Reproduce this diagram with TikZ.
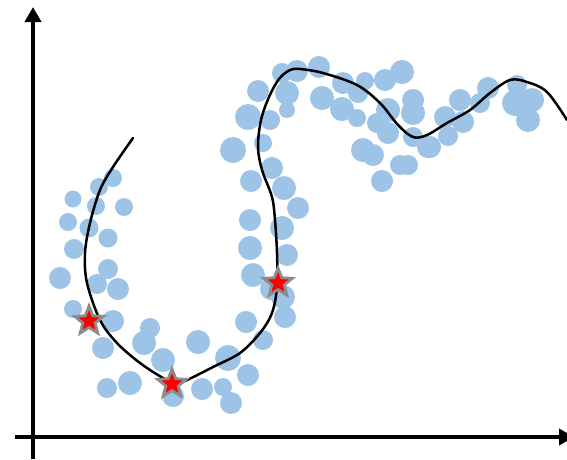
\documentclass[tikz,border=0pt]{standalone}
\usetikzlibrary{arrows.meta,shapes.geometric}
\definecolor{dotblue}{HTML}{9DC3E6}
\begin{document}
\begin{tikzpicture}[x=1pt,y=-1pt,
  axisline/.style={line width=4.5pt,-{Triangle[width=16pt,length=15pt]}},
  dot/.style={fill=dotblue},
  pathline/.style={line width=2.5pt,line cap=round,line join=round},
  starmark/.style={star,star points=5,star point ratio=2.3,minimum size=30pt,inner sep=0pt,fill=red,draw=gray!90,line width=2.8pt}]
\useasboundingbox (0,0) rectangle (567,459);
% points
\foreach \x/\y/\r in {
113/178/9, 99/187/9, 73/199/8.5, 96/206/9, 124/207/9, 68/222/9, 89/228/9.5, 108/238/9.5,
74/249/10, 60/278/11, 108/269/10, 97/284/10, 118/289/11, 73/309/9, 113/321/11, 103/348/11,
150/328/10, 144/343/12, 163/360/12, 130/383/12, 107/388/10, 173/396/11, 198/342/12, 202/389/11,
223/387/9, 231/403/11, 228/358/13, 248/375/11, 246/322/11, 263/340/10, 285/317/11, 283/297/12,
271/289/11, 253/275/12, 287/255/11, 250/248/12, 282/228/12, 250/220/11, 298/208/11, 284/188/12,
251/181/11, 272/168/11, 233/150/13, 263/143/9, 248/117/13, 270/120/10, 258/91/11, 287/93/12,
287/110/8, 282/73/10, 297/71/11,
319/67/11, 343/83/11, 365/81/9, 322/98/12, 358/93/10, 385/80/11, 402/72/12, 342/109/12,
357/118/9, 413/100/11, 413/113/12, 388/110/12, 377/123/10, 388/133/11, 363/150/12, 373/155/11,
413/137/10, 428/147/11, 400/165/10, 408/165/10, 382/181/11, 445/117/11, 463/122/11, 460/100/11,
488/88/11, 480/103/10, 448/136/10, 430/147/11, 517/85/10, 515/103/13, 532/100/12, 528/120/12}
  \fill[dot] (\x,\y) circle (\r);
% axes
\coordinate (o1) at (33,459);
\coordinate (ytip) at (33,7);
\coordinate (o2) at (15,437);
\coordinate (xtip) at (574,437);
\draw[axisline] (o1) -- (ytip);
\draw[axisline] (o2) -- (xtip);
% curve
\draw[pathline] plot[smooth,tension=0.55] coordinates {
(133,138) (113,167) (100,190) (90,223) (85,253) (87,283) (100,320) (117,343) (140,363)
(163,378) (175,383) (187,380) (213,367) (240,353) (260,333) (272,313) (277,287) (277,253)
(275,220) (272,197) (262,170) (258,147) (261,120) (269,97) (279,79) (290,70) (300,69)
(323,73) (357,85) (380,103) (398,125) (413,137) (427,135) (447,123) (470,110) (490,93)
(510,80) (527,82) (547,92) (567,120)};
% stars
\node[starmark] (s1) at (89,321) {};
\node[starmark] (s2) at (172,384) {};
\node[starmark] (s3) at (278,283) {};
\end{tikzpicture}
\end{document}
